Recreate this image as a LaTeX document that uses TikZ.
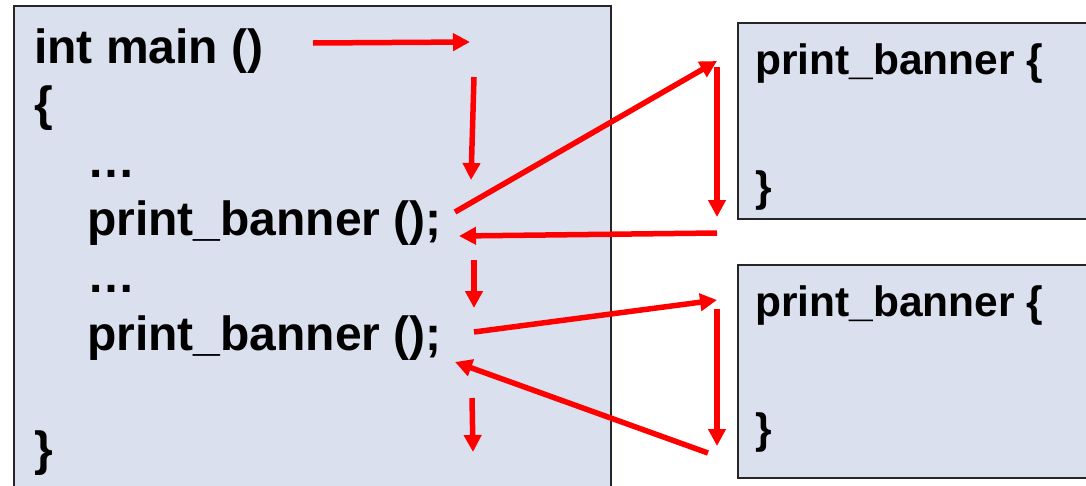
\documentclass[tikz,border=0pt]{standalone}
\usepackage{fontspec}
\setmainfont{Liberation Sans}
\usetikzlibrary{arrows.meta}
\definecolor{boxfill}{RGB}{218,224,238}
\tikzset{%
        codebox/.style = {draw = black!85, line width = 1.5pt, fill = boxfill,
                          anchor = north west, inner sep = 0pt},
        code/.style = {anchor = base west, inner sep = 0pt,
                       font = \bfseries\fontsize{48}{56}\selectfont},
        subcode/.style = {code, font = \bfseries\fontsize{42.5}{50}\selectfont},
        flow/.style = {draw = red, line width = 5.5pt,
                       -{Triangle[length=17pt, width=17pt]}}
}

\begin{document}
\begin{tikzpicture}[x=1pt, y=-1pt]
        \useasboundingbox (0,0) rectangle (1086,485);
        \clip (0,0) rectangle (1086,485);
        % boxes
        \node[codebox, minimum width=597pt, minimum height=500pt] (main) at (13,5) {};
        \node[codebox, minimum width=400pt, minimum height=196pt] (sub1) at (737,22) {};
        \node[codebox, minimum width=400pt, minimum height=213pt] (sub2) at (737,264) {};
        % main program
        \node[code] (l1) at (34,63)  {int main ()};
        \node[code] (l2) at (34,120) {\{};
        \node[code] (l3) at (87,177) {…};
        \node[code] (l4) at (87,235) {print\_banner ();};
        \node[code] (l5) at (87,292) {…};
        \node[code] (l6) at (87,350) {print\_banner ();};
        \node[code] (l7) at (34,465) {\}};
        % the function, twice
        \node[subcode] (f1) at (755,74)  {print\_banner \{};
        \node[subcode] (g1) at (755,201) {\}};
        \node[subcode] (f2) at (755,316) {print\_banner \{};
        \node[subcode] (g2) at (755,443) {\}};
        % control flow
        \coordinate (a1) at (313,43);  \coordinate (b1) at (470,42);
        \coordinate (a2) at (474,77);  \coordinate (b2) at (471,180);
        \coordinate (a3) at (455,212); \coordinate (b3) at (717,61);
        \coordinate (a4) at (717,67);  \coordinate (b4) at (717,217);
        \coordinate (a5) at (717,233); \coordinate (b5) at (459,236);
        \coordinate (a6) at (474,260); \coordinate (b6) at (474,308);
        \coordinate (a7) at (474,332); \coordinate (b7) at (717,300);
        \coordinate (a8) at (717,309); \coordinate (b8) at (717,446);
        \coordinate (a9) at (708,453); \coordinate (b9) at (455,362);
        \coordinate (a10) at (472,398); \coordinate (b10) at (473,452);
      \path
      (a1) edge[flow] (b1)
      (a2) edge[flow] (b2)
      (a3) edge[flow] (b3)
      (a4) edge[flow] (b4)
      (a5) edge[flow] (b5)
      (a6) edge[flow] (b6)
      (a7) edge[flow] (b7)
      (a8) edge[flow] (b8)
      (a9) edge[flow] (b9)
      (a10) edge[flow] (b10)
      ;
\end{tikzpicture}
\end{document}
